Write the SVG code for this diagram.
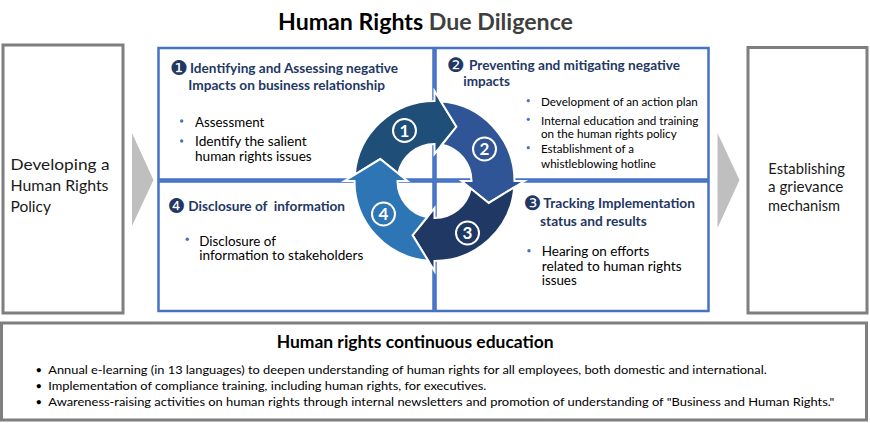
<svg xmlns="http://www.w3.org/2000/svg" width="870" height="423" viewBox="0 0 870 423">
<style>
text{font-family:Lato,"Open Sans","Liberation Sans",sans-serif}
.title{font-weight:700;font-size:22.5px}
.hdr{font-weight:700;font-size:13.2px;fill:#1F3864}
.badge{font-family:"DejaVu Sans",sans-serif;font-size:20px;fill:#1F3864}
.body{font-size:12.5px;fill:#000}
.small{font-size:11.2px;fill:#000}
.side{font-size:15px;fill:#1a1a1a}
.edu{font-size:11.3px;fill:#000}
.eduh{font-weight:700;font-size:16.7px;fill:#000}
.dot{fill:#4472C4}
.quad{fill:#fff;stroke:#4472C4;stroke-width:2.5}
.gbox{fill:#fff;stroke:#7F7F7F;stroke-width:3}
.chev{fill:#BFBFBF}
.arrow{stroke:#fff;stroke-width:2;stroke-linejoin:miter}
.cnum circle{fill:none;stroke:#fff;stroke-width:2}
.cnum text{font-weight:700;font-size:17px;fill:#fff;text-anchor:middle}
</style>
<rect width="870" height="423" fill="#fff"/>

<g id="title">
  <text class="title" x="278" y="30" textLength="295" lengthAdjust="spacingAndGlyphs"><tspan fill="#000">Human Rights </tspan><tspan fill="#3f3f3f">Due Diligence</tspan></text>
</g>

<g id="connectors">
  <polygon class="chev" points="132,133 153.5,180 132,226"/>
  <polygon class="chev" points="717.5,133 739.5,180 717.5,228"/>
</g>

<g id="node-policy">
  <rect class="gbox" x="3" y="45" width="120" height="268"/>
  <text class="side" x="10.5" y="170" textLength="99" lengthAdjust="spacingAndGlyphs">Developing a</text>
  <text class="side" x="10.5" y="191" textLength="98" lengthAdjust="spacingAndGlyphs">Human Rights</text>
  <text class="side" x="10.5" y="211.5" textLength="40.5" lengthAdjust="spacingAndGlyphs">Policy</text>
</g>

<g id="node-grievance">
  <rect class="gbox" x="748" y="47.5" width="119" height="265.5"/>
  <text class="side" x="768.3" y="174" textLength="76.7" lengthAdjust="spacingAndGlyphs">Establishing</text>
  <text class="side" x="768" y="192.3" textLength="75.3" lengthAdjust="spacingAndGlyphs">a grievance</text>
  <text class="side" x="768" y="210.5" textLength="72" lengthAdjust="spacingAndGlyphs">mechanism</text>
</g>

<g id="node-q1">
  <rect class="quad" x="158.5" y="48" width="275" height="131.5"/>
</g>
<g id="node-q2">
  <rect class="quad" x="435.5" y="48" width="273" height="131.5"/>
</g>
<g id="node-q4">
  <rect class="quad" x="158.5" y="181.5" width="275" height="129.5"/>
</g>
<g id="node-q3">
  <rect class="quad" x="435.5" y="181.5" width="273" height="129.5"/>
</g>

<g id="cycle" transform="translate(434.5,181)">
  <path class="arrow" fill="#1F4E79" d="M-36.25,-7.44 L-54.24,-21.91 L-79.75,-6.28 A80,80 0 0 1 0,-80 L0,-90 L21.91,-54.24 L0,-27 L0,-37 A37,37 0 0 0 -36.25,-7.44 Z"/>
  <path class="arrow" fill="#2F5597" d="M7.44,-36.25 L21.91,-54.24 L6.28,-79.75 A80,80 0 0 1 80,0 L90,0 L54.24,21.91 L27,0 L37,0 A37,37 0 0 0 7.44,-36.25 Z"/>
  <path class="arrow" fill="#203864" d="M36.25,7.44 L54.24,21.91 L79.75,6.28 A80,80 0 0 1 0,80 L0,90 L-21.91,54.24 L0,27 L0,37 A37,37 0 0 0 36.25,7.44 Z"/>
  <path class="arrow" fill="#2E75B6" d="M-7.44,36.25 L-21.91,54.24 L-6.28,79.75 A80,80 0 0 1 -80,0 L-90,0 L-54.24,-21.91 L-27,0 L-37,0 A37,37 0 0 0 -7.44,36.25 Z"/>
  <g class="cnum">
    <circle cx="-30" cy="-50.5" r="11.5"/><text x="-30" y="-44.5">1</text>
    <circle cx="50" cy="-32" r="11.5"/><text x="50" y="-26">2</text>
    <circle cx="33" cy="52" r="11.5"/><text x="33" y="58">3</text>
    <circle cx="-51" cy="33" r="11.5"/><text x="-51" y="39">4</text>
  </g>
</g>

<g id="text-q1">
  <text class="badge" x="170" y="75">❶</text>
  <text class="hdr" x="190" y="73.3" textLength="208" lengthAdjust="spacingAndGlyphs">Identifying and Assessing negative</text>
  <text class="hdr" x="188.3" y="89.5" textLength="196.7" lengthAdjust="spacingAndGlyphs">Impacts on business relationship</text>
  <circle class="dot" cx="181.7" cy="121" r="1.7"/>
  <text class="body" x="195" y="126.5" textLength="69.3" lengthAdjust="spacingAndGlyphs">Assessment</text>
  <circle class="dot" cx="181.7" cy="141" r="1.7"/>
  <text class="body" x="195" y="146" textLength="111.7" lengthAdjust="spacingAndGlyphs">Identify the salient</text>
  <text class="body" x="195" y="161" textLength="116.7" lengthAdjust="spacingAndGlyphs">human rights issues</text>
</g>

<g id="text-q2">
  <text class="badge" x="447" y="71.8">❷</text>
  <text class="hdr" x="469" y="70" textLength="211" lengthAdjust="spacingAndGlyphs">Preventing and mitigating negative</text>
  <text class="hdr" x="463.3" y="86" textLength="46.7" lengthAdjust="spacingAndGlyphs">impacts</text>
  <circle class="dot" cx="528.3" cy="100.7" r="1.6"/>
  <text class="small" x="541" y="106" textLength="156.7" lengthAdjust="spacingAndGlyphs">Development of an action plan</text>
  <circle class="dot" cx="528.3" cy="119.3" r="1.6"/>
  <text class="small" x="541" y="124.5" textLength="157.3" lengthAdjust="spacingAndGlyphs">Internal education and training</text>
  <text class="small" x="541" y="138" textLength="135.7" lengthAdjust="spacingAndGlyphs">on the human rights policy</text>
  <circle class="dot" cx="528.3" cy="147.7" r="1.6"/>
  <text class="small" x="541" y="153.3" textLength="93" lengthAdjust="spacingAndGlyphs">Establishment of a</text>
  <text class="small" x="541" y="167.5" textLength="115" lengthAdjust="spacingAndGlyphs">whistleblowing hotline</text>
</g>

<g id="text-q3">
  <text class="badge" x="523.5" y="210">❸</text>
  <text class="hdr" x="543.3" y="208.3" textLength="151.7" lengthAdjust="spacingAndGlyphs">Tracking Implementation</text>
  <text class="hdr" x="540" y="225.7" textLength="106.7" lengthAdjust="spacingAndGlyphs">status and results</text>
  <circle class="dot" cx="529" cy="250.7" r="1.7"/>
  <text class="body" x="541.7" y="256" textLength="107.6" lengthAdjust="spacingAndGlyphs">Hearing on efforts</text>
  <text class="body" x="541.7" y="270.7" textLength="140" lengthAdjust="spacingAndGlyphs">related to human rights</text>
  <text class="body" x="541.7" y="285" textLength="35" lengthAdjust="spacingAndGlyphs">issues</text>
</g>

<g id="text-q4">
  <text class="badge" x="167.5" y="213">❹</text>
  <text class="hdr" x="188.3" y="211.3" textLength="156.7" lengthAdjust="spacingAndGlyphs" xml:space="preserve">Disclosure of  information</text>
  <circle class="dot" cx="187.3" cy="239.3" r="1.7"/>
  <text class="body" x="199.3" y="245.5" textLength="76.7" lengthAdjust="spacingAndGlyphs">Disclosure of</text>
  <text class="body" x="199.3" y="260" textLength="164" lengthAdjust="spacingAndGlyphs">information to stakeholders</text>
</g>

<g id="node-education">
  <rect class="gbox" x="1.5" y="323" width="865" height="97"/>
  <text class="eduh" x="276.7" y="348.3" textLength="277" lengthAdjust="spacingAndGlyphs">Human rights continuous education</text>
  <text class="edu" x="35.5" y="374">•</text>
  <text class="edu" x="48.3" y="374" textLength="718.4" lengthAdjust="spacingAndGlyphs">Annual e-learning (in 13 languages) to deepen understanding of human rights for all employees, both domestic and international.</text>
  <text class="edu" x="35.5" y="390">•</text>
  <text class="edu" x="48.3" y="390" textLength="438" lengthAdjust="spacingAndGlyphs">Implementation of compliance training, including human rights, for executives.</text>
  <text class="edu" x="35.5" y="405.5">•</text>
  <text class="edu" x="48.3" y="405.5" textLength="786" lengthAdjust="spacingAndGlyphs">Awareness-raising activities on human rights through internal newsletters and promotion of understanding of "Business and Human Rights."</text>
</g>
</svg>
